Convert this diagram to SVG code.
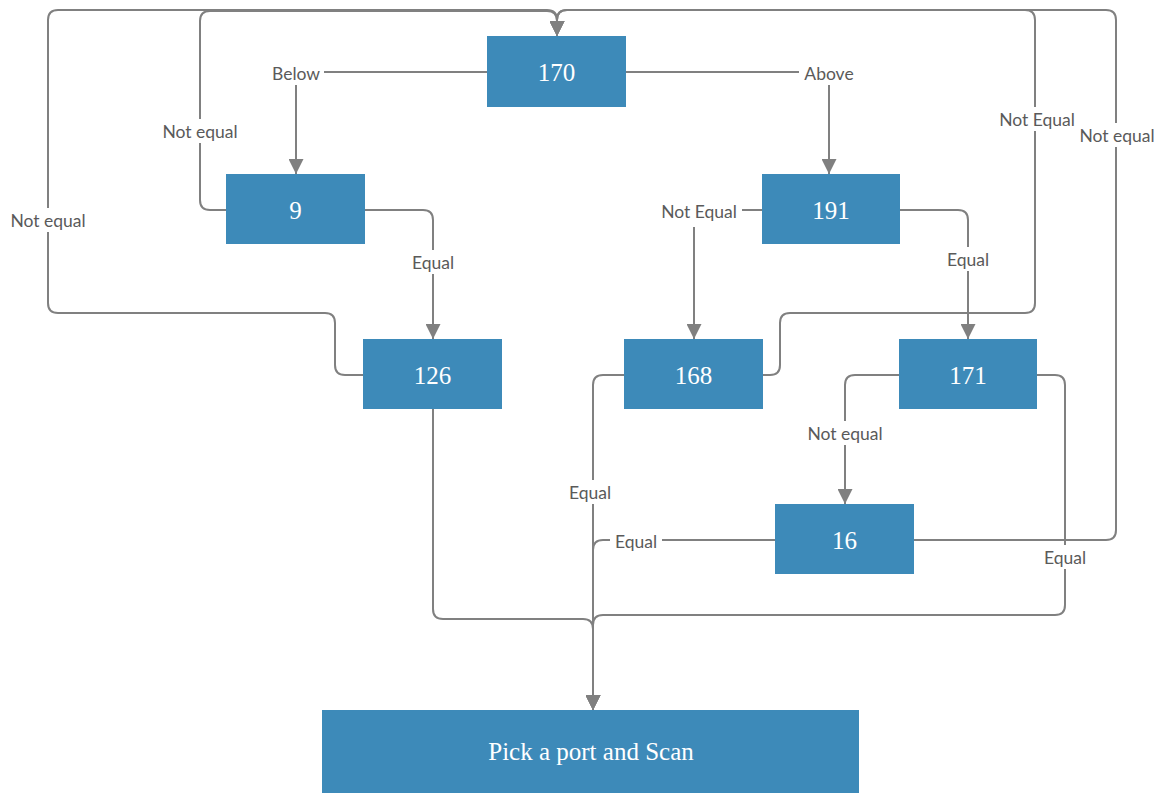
<svg xmlns="http://www.w3.org/2000/svg" width="1160" height="793" viewBox="0 0 1160 793">
<defs>
<marker id="arr" viewBox="0 0 10 10" refX="10" refY="5" markerWidth="15" markerHeight="15" markerUnits="userSpaceOnUse" orient="auto">
<path d="M0,0 L10,5 L0,10 z" fill="#808080"/>
</marker>
<style>
.box{fill:#3d8ab9;}
.bt{font-family:"Liberation Serif",serif;font-size:25px;fill:#ffffff;text-anchor:middle;dominant-baseline:central;}
.c{fill:none;stroke:#808080;stroke-width:2;}
.a{marker-end:url(#arr);}
.lb{fill:#ffffff;}
.lt{font-family:Lato,"Liberation Sans",sans-serif;font-size:17.5px;fill:#5a5a5a;text-anchor:middle;dominant-baseline:central;}
</style>
</defs>
<rect width="1160" height="793" fill="#ffffff"/>
<g id="connectors">
<path class="c a" d="M487,72 H306 Q296,72 296,82 V174"/>
<path class="c a" d="M626,72 H819 Q829,72 829,82 V174"/>
<path class="c a" d="M365,210 H423 Q433,210 433,220 V339"/>
<path class="c a" d="M226,210 H210 Q200,210 200,200 V21 Q200,11 210,11 H547 Q557,11 557,21 V36"/>
<path class="c a" d="M363,375 H345 Q335,375 335,365 V323 Q335,313 325,313 H58 Q48,313 48,303 V20 Q48,10 58,10 H547 Q557,10 557,20 V36"/>
<path class="c a" d="M762,210 H704 Q694,210 694,220 V339"/>
<path class="c a" d="M900,210 H958 Q968,210 968,220 V339"/>
<path class="c a" d="M763,375 H770 Q780,375 780,365 V323 Q780,313 790,313 H1025 Q1035,313 1035,303 V20 Q1035,10 1025,10 H567 Q557,10 557,20 V36"/>
<path class="c a" d="M899,375 H855 Q845,375 845,385 V504"/>
<path class="c a" d="M914,540 H1106 Q1116,540 1116,530 V20 Q1116,10 1106,10 H567 Q557,10 557,20 V36"/>
<path class="c a" d="M1037,375 H1055 Q1065,375 1065,385 V605 Q1065,615 1055,615 H603 Q593,615 593,625 V710"/>
<path class="c a" d="M433,409 V609 Q433,619 443,619 H583 Q593,619 593,629 V710"/>
<path class="c a" d="M624,375 H603 Q593,375 593,385 V710"/>
<path class="c a" d="M775,540 H603 Q593,540 593,550 V710"/>
<g id="labels">
<rect class="lb" x="268" y="61" width="56" height="24"/><text class="lt" x="296" y="73">Below</text>
<rect class="lb" x="799" y="61" width="60" height="24"/><text class="lt" x="829" y="73">Above</text>
<rect class="lb" x="407" y="250" width="52" height="24"/><text class="lt" x="433" y="262">Equal</text>
<rect class="lb" x="158" y="119" width="84" height="24"/><text class="lt" x="200" y="131">Not equal</text>
<rect class="lb" x="6" y="208" width="84" height="24"/><text class="lt" x="48" y="220">Not equal</text>
<rect class="lb" x="656" y="199" width="86" height="28"/><text class="lt" x="699" y="211">Not Equal</text>
<rect class="lb" x="942" y="247" width="52" height="24"/><text class="lt" x="968" y="259">Equal</text>
<rect class="lb" x="994" y="107" width="86" height="24"/><text class="lt" x="1037" y="119">Not Equal</text>
<rect class="lb" x="803" y="421" width="84" height="24"/><text class="lt" x="845" y="433">Not equal</text>
<rect class="lb" x="1076" y="123" width="82" height="24"/><text class="lt" x="1117" y="135">Not equal</text>
<rect class="lb" x="1039" y="545" width="52" height="24"/><text class="lt" x="1065" y="557">Equal</text>
<rect class="lb" x="564" y="480" width="52" height="24"/><text class="lt" x="590" y="492">Equal</text>
<rect class="lb" x="610" y="529" width="52" height="24"/><text class="lt" x="636" y="541">Equal</text>
</g>
</g>
<g id="n170"><rect class="box" x="487" y="36" width="139" height="71"/><text class="bt" x="556.5" y="72">170</text></g>
<g id="n9"><rect class="box" x="226" y="174" width="139" height="70"/><text class="bt" x="295.5" y="210">9</text></g>
<g id="n191"><rect class="box" x="762" y="174" width="138" height="70"/><text class="bt" x="831" y="210">191</text></g>
<g id="n126"><rect class="box" x="363" y="339" width="139" height="70"/><text class="bt" x="432.5" y="375">126</text></g>
<g id="n168"><rect class="box" x="624" y="339" width="139" height="70"/><text class="bt" x="693.5" y="375">168</text></g>
<g id="n171"><rect class="box" x="899" y="339" width="138" height="70"/><text class="bt" x="968" y="375">171</text></g>
<g id="n16"><rect class="box" x="775" y="504" width="139" height="70"/><text class="bt" x="844.5" y="540">16</text></g>
<g id="npick"><rect class="box" x="322" y="710" width="537" height="90"/><text class="bt" x="591" y="751">Pick a port and Scan</text></g>
</svg>
